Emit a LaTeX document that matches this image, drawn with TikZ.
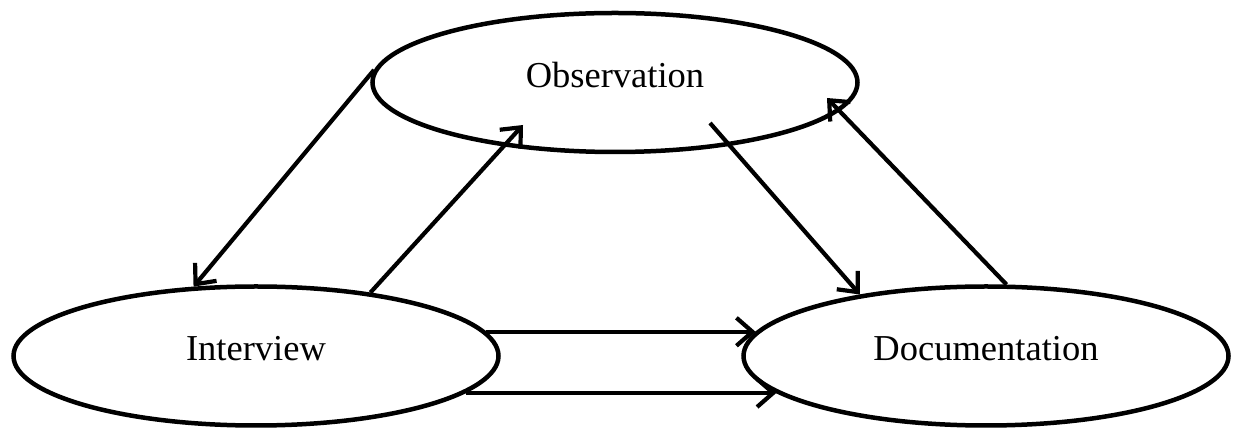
\documentclass[tikz,border=0pt]{standalone}
\usepackage{fontspec}
\setmainfont{Liberation Serif}
\usetikzlibrary{shapes.geometric,arrows.meta,calc}
\begin{document}
\begin{tikzpicture}[x=1pt,y=1pt,
  bubble/.style={ellipse,draw=black,line width=4.5pt,fill=white,inner sep=0pt,
    minimum width=485pt,minimum height=139pt,text depth=16pt,
    font=\fontsize{36.5}{40}\selectfont},
  arr/.style={draw=black,line width=4.2pt,-{Straight Barb[length=16pt,width=28pt]}}]
\useasboundingbox (0,0) rectangle (1237,428);
\node[bubble] (obs) at (615,345.5) {Observation};
\node[bubble] (int) at (256,72) {Interview};
\node[bubble] (doc) at (986,72) {Documentation};
\coordinate (t2) at ($(obs.center)+(-92,-42.5)$);
\coordinate (s3) at ($(obs.center)+(95,-40.5)$);
\coordinate (t4) at ($(obs.center)+(212,-15.5)$);
\draw[arr] (obs.177) -- (int.132);
\draw[arr] (int.29) -- (t2);
\draw[arr] (s3) -- (doc.154);
\draw[arr] (doc.74) -- (t4);
\draw[arr] (int.6) -- (doc.174);
\draw[arr] (int.-10) -- (doc.190);
\end{tikzpicture}
\end{document}
